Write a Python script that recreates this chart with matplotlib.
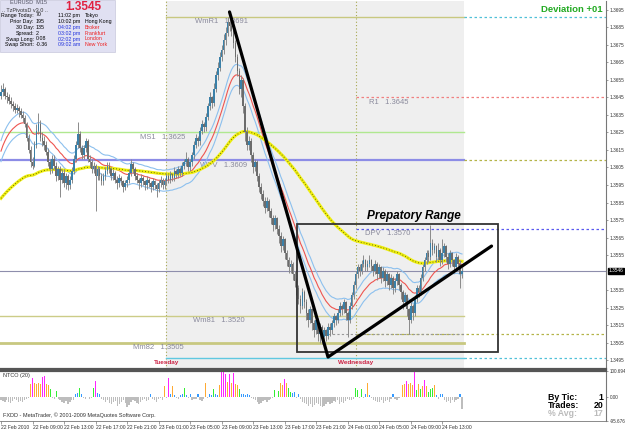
import numpy as np
import matplotlib.pyplot as plt
from matplotlib.patches import Rectangle

plt.rcParams['font.family'] = ['Liberation Sans', 'DejaVu Sans']

W, H = 625, 429

# EURUSD M15, values in pips above 1.3500
BASE = 1.3500
first_open = 146
closes = [148, 150, 146, 145, 143, 141, 140, 138, 139, 137,
          135, 133, 130, 122, 115, 108, 106, 118, 126, 130,
          122, 120, 118, 114, 108, 104, 110, 106, 100, 104,
          98, 102, 96, 100, 95, 98, 103, 110, 118, 124,
          116, 112, 116, 120, 110, 108, 104, 106, 100, 104,
          100, 97, 100, 103, 106, 104, 100, 102, 98, 96,
          99, 97, 94, 96, 98, 102, 107, 104, 100, 98,
          96, 99, 97, 95, 98, 96, 94, 97, 95, 93,
          96, 98, 95, 97, 100, 98, 101, 99, 103, 101,
          104, 102, 106, 108, 110, 105, 108, 112, 118, 122,
          120, 126, 130, 128, 134, 140, 145, 142, 150, 158,
          162, 168, 172, 178, 182, 188, 186, 183, 176, 168,
          160, 150, 155, 140, 125, 118, 120, 112, 105, 108,
          100, 94, 90, 86, 82, 86, 80, 76, 72, 76,
          70, 66, 60, 64, 56, 52, 48, 50, 44, 40,
          36, 30, 26, 34, 28, 22, 18, 24, 16, 12,
          18, 10, 14, 8, 12, 9, 14, 12, 16, 20,
          18, 22, 26, 24, 28, 22, 18, 26, 32, 38,
          44, 48, 46, 50, 52, 48, 50, 52, 49, 46,
          50, 44, 48, 42, 46, 40, 44, 38, 42, 36,
          40, 44, 38, 34, 28, 32, 24, 18, 26, 22,
          30, 36, 34, 42, 48, 52, 56, 54, 62, 58,
          60, 54, 58, 52, 56, 60, 54, 50, 56, 52,
          48, 54, 50, 44, 46]
highs = [152, 153, 151, 148, 147, 145, 143, 142, 141, 140,
         139, 137, 135, 131, 124, 117, 111, 120, 130, 136,
         132, 125, 123, 120, 116, 110, 112, 112, 108, 106,
         106, 104, 104, 102, 101, 100, 105, 112, 120, 131,
         126, 118, 118, 122, 121, 112, 110, 108, 107, 106,
         105, 102, 102, 105, 108, 108, 105, 104, 103, 100,
         101, 100, 98, 98, 100, 104, 110, 108, 105, 102,
         99, 101, 100, 98, 100, 99, 97, 99, 98, 96,
         98, 100, 99, 99, 102, 101, 103, 102, 105, 104,
         106, 105, 108, 110, 114, 111, 110, 114, 120, 124,
         123, 128, 132, 131, 136, 142, 148, 146, 153, 160,
         165, 171, 175, 181, 185, 191, 193, 188, 184, 178,
         170, 162, 158, 156, 142, 128, 123, 122, 114, 110,
         109, 102, 96, 92, 88, 88, 87, 82, 78, 78,
         77, 72, 68, 66, 65, 58, 54, 52, 51, 46,
         42, 38, 32, 36, 35, 30, 24, 26, 25, 18,
         20, 19, 16, 15, 14, 13, 16, 16, 18, 22,
         21, 24, 28, 27, 30, 29, 23, 28, 34, 40,
         46, 50, 50, 52, 55, 53, 52, 55, 53, 50,
         52, 51, 50, 49, 48, 47, 46, 45, 44, 43,
         42, 46, 45, 39, 35, 34, 33, 25, 28, 27,
         32, 38, 38, 44, 50, 54, 58, 58, 72, 64,
         62, 61, 62, 59, 64, 62, 61, 56, 58, 57,
         53, 56, 55, 52, 48]
lows = [144, 146, 144, 142, 141, 139, 137, 136, 136, 134,
        133, 131, 128, 120, 113, 105, 104, 105, 116, 124,
        120, 117, 115, 112, 106, 101, 102, 104, 97, 98,
        88, 96, 94, 93, 92, 93, 96, 101, 108, 116,
        114, 110, 110, 114, 108, 105, 102, 102, 80, 98,
        98, 95, 95, 98, 101, 102, 98, 98, 96, 93,
        94, 95, 91, 92, 94, 96, 100, 102, 98, 96,
        93, 94, 95, 92, 93, 94, 91, 92, 93, 88,
        91, 94, 93, 93, 95, 96, 96, 97, 97, 99,
        99, 100, 100, 104, 106, 103, 103, 106, 110, 116,
        117, 118, 124, 125, 126, 132, 138, 139, 140, 148,
        155, 160, 166, 170, 175, 180, 183, 180, 173, 165,
        157, 147, 145, 136, 120, 115, 115, 108, 102, 103,
        97, 91, 87, 83, 79, 80, 77, 73, 69, 70,
        67, 62, 57, 58, 53, 49, 45, 45, 41, 37,
        32, 27, 22, 24, 25, 18, 14, 16, 12, 8,
        10, 6, 5, 4, 6, 6, 7, 9, 10, 14,
        15, 16, 20, 21, 22, 18, 8, 16, 24, 30,
        36, 42, 43, 44, 48, 46, 46, 48, 46, 43,
        44, 41, 42, 39, 40, 37, 38, 35, 36, 33,
        34, 38, 35, 30, 24, 26, 20, 10, 16, 18,
        20, 28, 31, 32, 40, 46, 50, 51, 52, 55,
        56, 51, 52, 49, 50, 54, 51, 47, 48, 49,
        45, 46, 47, 36, 42]

# NTCO(20) histogram
ntco = [-12, -18, -22, -15, -20, -25, -18, -10, -14, -20,
        -16, -22, -12, -8, -5, 50, 75, 52, 48, 55,
        50, 78, 80, 48, 45, 30, -5, -8, 22, -10,
        -15, -20, -25, -18, -30, -22, -15, -12, 12, 14,
        32, 10, -5, -8, -3, -10, -6, 35, 60, 15,
        10, -8, -12, -20, -15, -25, -30, -22, -18, -35,
        -28, -20, -15, -25, -40, -32, -20, -12, -18, -25,
        -30, -22, -15, -10, -18, -12, 12, -8, -15, -20,
        -10, -5, -12, 40, -5, 75, 12, 42, 8, -5,
        -10, 8, 10, 35, 8, -6, 10, -15, -8, -10,
        12, -12, -18, -8, 55, -5, 12, 8, 30, 10,
        5, 45, 100, 98, 90, 56, 88, 55, 92, 48,
        45, 30, 12, 10, 8, 12, 6, -5, -10, -15,
        -22, -30, -25, -18, -12, -20, -15, -8, -5, 25,
        -3, 22, 55, 45, 70, 52, 35, 20, 15, 18,
        -5, 12, -10, -20, -25, -30, -35, -28, -40, -32,
        -25, -30, -38, -42, -35, -28, -22, -30, -25, -18,
        -22, -15, -28, -20, -25, -18, -10, -15, -12, -8,
        35, 28, -5, 30, -6, 10, 55, 8, -4, -12,
        -18, -22, -20, -15, -25, -18, -12, -20, -10, 10,
        -8, -15, -6, -3, 45, 50, 62, 48, 55, 45,
        95, 28, 50, 30, 42, 66, 40, 20, 30, 35,
        45, 8, -10, 12, 10, -15, -22, -18, -25, -12,
        -20, -15, -8, 10, -50]
ntco_max, ntco_min = 100.694, -95.676

assert len(closes) == len(highs) == len(lows) == len(ntco)

time_labels = ['22 Feb 2010', '22 Feb 09:00', '22 Feb 13:00', '22 Feb 17:00',
               '22 Feb 21:00', '23 Feb 01:00', '23 Feb 05:00', '23 Feb 09:00',
               '23 Feb 13:00', '23 Feb 17:00', '23 Feb 21:00', '24 Feb 01:00',
               '24 Feb 05:00', '24 Feb 09:00', '24 Feb 13:00']
bars_per_label = 16

# pivot levels
level_names = ['WmR1', 'R1', 'MS1', 'WPV', 'DPV', 'Wm81', 'Mm82', '', '']
level_prices = [1.3691, 1.3645, 1.3625, 1.3609, 1.3570, 1.3520, 1.3505,
                1.3510, 1.3496]
last_price = 1.3546
bid = '1.3545'
day_names = ['Tuesday', 'Wednesday']
day_bars = [84, 180]

# hand drawn objects
trend_bars = [116, 166, 249]
trend_prices = [1.36939, 1.34967, 1.35601]
box_bars = [150.5, 252.5]
box_prices = [1.34996, 1.35727]

info_rows = [('Range Today:', '70', '11:02 pm', 'Tokyo'),
             ('Prior Day:', '195', '10:02 pm', 'Hong Kong'),
             ('30 Day:', '135', '04:02 pm', 'Broker'),
             ('Spread:', '2', '03:02 pm', 'Frankfurt'),
             ('Swap Long:', '0.08', '02:02 pm', 'London'),
             ('Swap Short:', '-0.36', '09:02 am', 'New York')]
stats = [('By Tic:', '1'), ('Trades:', '20'), ('% Avg:', '17')]

# ---------------------------------------------------------------------------
c = np.array(closes, float)
o = np.concatenate([[first_open], c[:-1]])
hi = np.array(highs, float)
lo = np.array(lows, float)
to_price = lambda v: BASE + np.asarray(v) / 10000.0
o, c, hi, lo = to_price(o), to_price(c), to_price(hi), to_price(lo)
n = len(c)
x = np.arange(n)


def ema(vals, period, seed):
    a = 2.0 / (period + 1)
    out, m = [], seed
    for v in vals:
        m = m + a * (v - m)
        out.append(m)
    return np.array(out)


red = ema(c, 21, to_price(111))
yellow = ema(c, 90, to_price(86))
band = 6 / 10000.0

fig = plt.figure(figsize=(W / 100, H / 100), dpi=100)
fig.patch.set_facecolor('white')


def fpos(x0, y0, x1, y1):
    return [x0 / W, 1 - y1 / H, (x1 - x0) / W, (y1 - y0) / H]


ax = fig.add_axes(fpos(0, 1, 606, 369))
ax2 = fig.add_axes(fpos(0, 371, 606, 421))
xmin, xmax = -0.5, 307.1
ax.set_xlim(xmin, xmax)
ax2.set_xlim(xmin, xmax)
ax.set_ylim(1.348986, 1.370014)
ax2.set_ylim(ntco_min, ntco_max)

# session shading and separators
ax.axvspan(day_bars[0], n, color='#efefef', zorder=0, lw=0)
for b in day_bars:
    ax.axvline(b, color='#a8a850', lw=0.8, ls=(0, (1, 2)), zorder=1)

# pivot lines
t0, t1, end = day_bars[0], n, xmax
segs = {  # (solid from, solid to, solid colour, lw, dotted colour)
    1.3691: (t0, t1, '#c8c880', 1.0, '#50c0d8'),
    1.3645: (None, None, None, 0, '#f08080'),
    1.3625: (xmin, t1, '#b0e890', 1.0, None),
    1.3609: (xmin, t1, '#8c8ce6', 1.6, '#b4b448'),
    1.3570: (None, None, None, 0, '#5a5af0'),
    1.3520: (xmin, t1, '#cccc88', 1.0, None),
    1.3505: (xmin, t1, '#c8c880', 2.0, None),
    1.3510: (None, None, None, 0, '#b4b448'),
    1.3496: (t0, t1, '#60c8e0', 1.0, '#50c0d8'),
}
for p in level_prices:
    s0, s1, col, lw, dcol = segs[p]
    if col:
        ax.plot([s0, s1], [p, p], color=col, lw=lw, zorder=2)
    if dcol:
        d0 = s1 if s1 is not None else day_bars[1]
        ax.plot([d0, end], [p, p], color=dcol, lw=0.9, ls=(0, (2, 2)), zorder=2)
ax.plot([166, n], [1.3510, 1.3510], color='#999999', lw=0.8, ls=(0, (2, 2)), zorder=2)

label_bars = {'WmR1': 98.5, 'R1': 187, 'MS1': 70.6, 'WPV': 101, 'DPV': 184.8,
              'Wm81': 97.5, 'Mm82': 67}
for name, p in zip(level_names, level_prices):
    if name:
        ax.annotate(f'{name}   {p:.4f}', xy=(label_bars[name], p), xytext=(0, -0.8),
                    textcoords='offset points', va='top', ha='left',
                    fontsize=5.5, color='#8a8a9c', zorder=3)

ax.axhline(last_price, color='#8e8eac', lw=0.8, zorder=2)

# moving averages
ax.plot(x, red + band, color='#8cc0ee', lw=0.8, zorder=4)
ax.plot(x, red - band, color='#8cc0ee', lw=0.8, zorder=4)
ax.plot(x, red, color='#ee5550', lw=0.8, zorder=4)
ax.plot(x, yellow, color='#eeee10', lw=2.2, zorder=4)
ax.plot(x, yellow, color='#404000', lw=0.6, ls=(0, (1, 2.5)), zorder=4)

# candles
up = c >= o
col = np.where(up, '#3a80a8', '#6c6c6c')
ax.vlines(x, lo, hi, colors='#8a8a8a', lw=0.7, zorder=5)
body = np.where(np.abs(c - o) < 0.00002, 0.00002, c - o)
ax.bar(x, body, bottom=o, width=0.85, color=col, lw=0, zorder=6)

# drawn trend lines and range box
ax.plot(trend_bars, trend_prices, color='black', lw=2.3, zorder=8,
        solid_capstyle='round', solid_joinstyle='round')
ax.add_patch(Rectangle((box_bars[0], box_prices[0]), box_bars[1] - box_bars[0],
                       box_prices[1] - box_prices[0], fill=False,
                       edgecolor='#333333', lw=1.3, zorder=7))
ax.text(186, 1.35775, 'Prepatory Range', fontsize=8.5, fontweight='bold',
        fontstyle='italic', color='black', va='center', ha='left', zorder=9)

for name, b in zip(day_names, day_bars):
    ax.text(b, 1.34933, name, ha='center', va='center', fontsize=4.6,
            fontweight='bold', color='#cc2244', zorder=9)

# price axis
ticks = [t for t in np.round(np.arange(1.3495, 1.36951, 0.001), 4)
         if abs(t - 1.3545) > 1e-6]
ax.yaxis.tick_right()
ax.set_yticks(ticks)
ax.set_yticklabels([f'{t:.4f}' for t in ticks])
ax.tick_params(axis='y', labelsize=3.4, length=1.5, width=0.5, pad=1.2,
               color='#777777', labelcolor='#333333')
ax.set_xticks([])
ax.annotate(f'{last_price:.4f}', xy=(1.0, last_price),
            xycoords=('axes fraction', 'data'), xytext=(2.0, 0),
            textcoords='offset points', va='center', ha='left', fontsize=3.4,
            color='white', bbox=dict(boxstyle='square,pad=0.15', fc='black',
                                     ec='black'))
for sp in ['top', 'left']:
    ax.spines[sp].set_visible(False)
ax.spines['right'].set_color('#777777')
ax.spines['bottom'].set_color('#555555')
ax.spines['bottom'].set_linewidth(1.6)

# indicator panel
v = np.array(ntco, float)
hcol = np.select([v < 0, v < 20, v < 40, v < 58],
                 ['#bdbdbd', '#3399ff', '#33ee33', '#ffaa33'], '#ff22ff')
ax2.bar(x, v, width=0.6, color=hcol, lw=0)
ax2.yaxis.tick_right()
ax2.set_yticks([ntco_max, 0, ntco_min])
ax2.set_yticklabels([f'{ntco_max:.3f}', '0.00', f'{ntco_min:.3f}'])
ax2.tick_params(axis='y', labelsize=3.3, length=1.5, width=0.5, pad=1.2,
                color='#777777', labelcolor='#333333')
ax2.set_xticks(np.arange(len(time_labels)) * bars_per_label)
ax2.set_xticklabels(time_labels, ha='left')
ax2.tick_params(axis='x', labelsize=3.6, length=2, width=0.5, pad=1.2,
                color='#777777', labelcolor='#333333')
for sp in ['left']:
    ax2.spines[sp].set_visible(False)
ax2.spines['top'].set_color('#555555')
ax2.spines['top'].set_linewidth(1.6)
ax2.spines['right'].set_color('#777777')
ax2.spines['bottom'].set_color('#777777')
ax2.spines['bottom'].set_linewidth(0.6)


def ft(px, py, s, **kw):
    fig.text(px / W, 1 - py / H, s, **kw)


ft(3, 376, 'NTCO (20)', fontsize=4.0, color='#333333', va='center')
ft(3, 415, 'FXDD - MetaTrader, \u00a9 2001-2009 MetaQuotes Software Corp.',
   fontsize=4.0, color='#333333', va='center')

# info panel
fig.patches.append(Rectangle((0, 1 - 52 / H), 115 / W, 52 / H,
                             transform=fig.transFigure, fc='#e0e0f2',
                             ec='#c8c8dc', lw=0.5, zorder=2))
ft(10, 3, 'EURUSD  M15', fontsize=4.0, color='#555566', va='center', zorder=3)
ft(2, 10, '.. TzPivotsD v3.0 ..', fontsize=4.0, color='#333333', va='center', zorder=3)
ft(83, 7, bid, fontsize=8.5, fontweight='bold', color='#e02040', ha='center',
   va='center', zorder=3)
row_y = [15, 21.5, 27.3, 33.3, 39, 44.5]
for i, (lab, val, tm, city) in enumerate(info_rows):
    y = row_y[i]
    tcol = 'black' if i < 2 else '#2233dd'
    ccol = 'black' if i < 2 else '#ee2222'
    ft(34, y, lab, fontsize=3.8, color='black', ha='right', va='center', zorder=3)
    ft(36, y, val, fontsize=3.8, color='black', ha='left', va='center', zorder=3)
    ft(58, y, tm, fontsize=3.8, color=tcol, ha='left', va='center', zorder=3)
    ft(85, y, city, fontsize=3.8, color=ccol, ha='left', va='center', zorder=3)

ft(603, 10, 'Deviation +01', fontsize=6.8, fontweight='bold', color='#22aa22',
   ha='right', va='center')

for (lab, val), y in zip(stats, [397, 405, 413]):
    colr = '#bbbbbb' if lab.startswith('%') else 'black'
    ft(548, y, lab, fontsize=6.3, fontweight='bold', color=colr, va='center')
    ft(603, y, val, fontsize=6.3, fontweight='bold', color=colr, va='center',
       ha='right')

fig.savefig('out.png', dpi=100)
